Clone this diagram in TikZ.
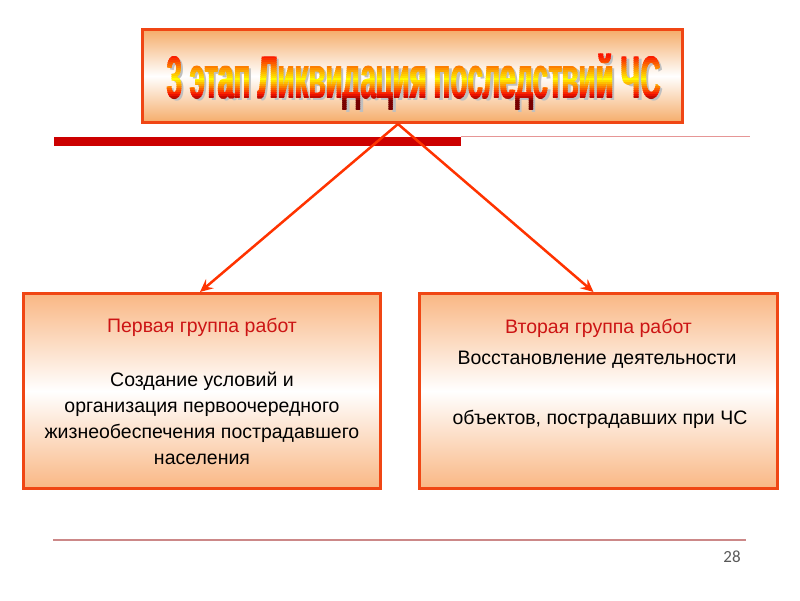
\documentclass[tikz,border=0pt]{standalone}
\usepackage{fontspec}
\setmainfont{Liberation Sans}
\newfontfamily\titlefontn{Liberation Sans}[UprightFont={* Bold}]
\newlength\titlewd
\settowidth\titlewd{\titlefontn\fontsize{60}{60}\selectfont 3 этап Ликвидация последствий ЧС}
\pgfmathsetmacro\stretchv{494/\titlewd}
\edef\mkfont{\noexpand\newfontfamily\noexpand\titlefont{Liberation Sans}[UprightFont={* Bold}, FakeStretch=\stretchv]}
\mkfont
\newfontfamily\numfont{Carlito}
\usetikzlibrary{arrows.meta}
\definecolor{bord}{RGB}{240,70,20}
\definecolor{arr}{RGB}{255,51,0}
\definecolor{barred}{RGB}{204,0,0}
\definecolor{thinred}{RGB}{230,150,150}
\definecolor{foot}{RGB}{204,136,136}
\definecolor{boxor}{RGB}{249,183,132}
\definecolor{titor}{RGB}{245,172,105}
\definecolor{grpred}{RGB}{204,20,20}
\definecolor{tred}{RGB}{250,20,0}
\definecolor{tyel}{RGB}{255,235,0}
\definecolor{tdark}{RGB}{120,0,0}
\definecolor{numgray}{RGB}{89,89,89}
\newcommand{\ttext}{{\titlefont\fontsize{60}{60}\selectfont 3 этап Ликвидация последствий ЧС}}
\tikzset{
  tbox/.style={draw=bord, line width=3pt, rectangle, top color=titor, bottom color=titor, middle color=white, minimum width=540pt, minimum height=93pt, inner sep=0pt},
  gbox/.style={draw=bord, line width=3pt, rectangle, top color=boxor, bottom color=boxor, middle color=white, minimum height=195pt, inner sep=0pt},
  ttl/.style={anchor=base west, inner sep=0pt},
  grp/.style={anchor=base, inner sep=0pt, text=grpred, font=\fontsize{19.5}{22}\selectfont},
  body/.style={anchor=base, inner sep=0pt, text=black, font=\fontsize{19.5}{22}\selectfont},
  arrowst/.style={draw=arr, line width=2.5pt, -{Stealth[length=13pt,width=12pt,inset=5pt]}}
}
\begin{document}
\begin{tikzpicture}[x=1pt,y=-1pt]
\useasboundingbox (0,0) rectangle (800,600);
% title box
\node[tbox] (title) at (412.5,76) {};
% shadow
\node[ttl, text=black!25] (tshadow) at (169.5,100) {\ttext};
\foreach \yy in {44,46,...,112}{
  \ifnum\yy<77
    \pgfmathtruncatemacro\pp{max(0,min(100,(\yy-55)*100/22))}
    \colorlet{cc}{tyel!\pp!tred}
  \else\ifnum\yy<93
    \pgfmathtruncatemacro\pp{min(100,(\yy-79)*100/14)}
    \colorlet{cc}{tred!\pp!tyel}
  \else
    \pgfmathtruncatemacro\pp{min(100,(\yy-93)*100/7)}
    \colorlet{cc}{tdark!\pp!tred}
  \fi\fi
  \begin{scope}
    \clip (141,\yy) rectangle (684,\yy+2.4);
    \node[ttl, text=cc] (ta\yy) at (166,98) {\ttext};
    \node[ttl, text=cc] (tb\yy) at (167.2,98) {\ttext};
  \end{scope}
}
% bars
\fill[barred] (54,137) rectangle (461,146);
\draw[thinred, line width=1pt] (461,136.5) -- (750,136.5);
% group boxes
\node[gbox, minimum width=357pt] (lbox) at (202,391) {};
\node[gbox, minimum width=358pt] (rbox) at (598.5,391) {};
% arrows
\draw[arrowst] ([xshift=-14.5pt]title.south) -- ([xshift=-2pt]lbox.north);
\draw[arrowst] ([xshift=-14.5pt]title.south) -- ([xshift=-5pt]rbox.north);
% left texts
\node[grp] (l0) at (202,332) {Первая группа работ};
\node[body] (l1) at (202,386) {Создание условий и};
\node[body] (l2) at (202,412) {организация первоочередного};
\node[body] (l3) at (202,438) {жизнеобеспечения пострадавшего};
\node[body] (l4) at (202,464) {населения};
% right texts
\node[grp] (r0) at (598.5,333) {Вторая группа работ};
\node[body] (r1) at (597,364) {Восстановление деятельности};
\node[body] (r2) at (600,424) {объектов, пострадавших при ЧС};
% footer
\draw[foot, line width=2.5pt] (53,540) -- (746,540);
\node[font=\numfont\fontsize{17}{19}\selectfont, text=numgray] (pg) at (732,557) {28};
\end{tikzpicture}
\end{document}
